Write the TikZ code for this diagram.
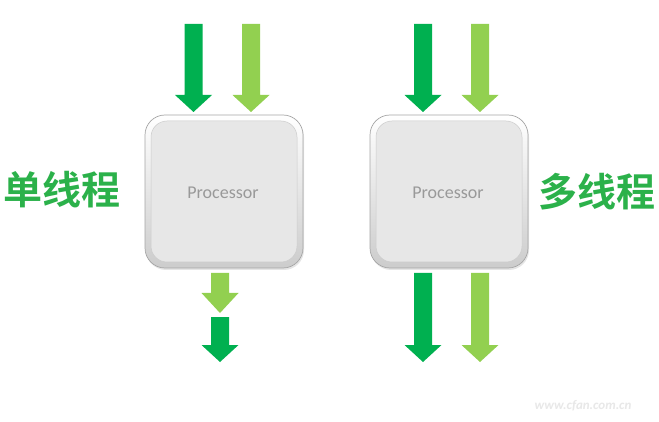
\documentclass[tikz,border=0pt]{standalone}
\usepackage{fontspec}
\setsansfont{Carlito}
\newfontfamily\cjk{Noto Sans CJK SC}[BoldFont={* Bold}]
\usetikzlibrary{shadows}
\definecolor{dkg}{HTML}{00B050}
\definecolor{ltg}{HTML}{92D050}
\definecolor{txtg}{HTML}{2BB14A}
\definecolor{face}{HTML}{E7E7E7}
\newcommand{\dnarr}[5]{% x, ytop, yheadstart, ytip, color
  \fill[#5] (#1-9,#2) -- (#1+9,#2) -- (#1+9,#3) -- (#1+18.5,#3) -- (#1,#4) -- (#1-18.5,#3) -- (#1-9,#3) -- cycle;}
\tikzset{
  cpu/.style={rounded corners=20pt, minimum width=158pt, minimum height=153pt, draw=gray!70, line width=0.7pt,
    top color=white, bottom color=gray!40, drop shadow={shadow xshift=1pt, shadow yshift=-2pt, opacity=0.2}},
  cpuface/.style={rounded corners=16pt, minimum width=146pt, minimum height=141pt, fill=face, draw=gray!40, line width=0.5pt,
    font=\sffamily\fontsize{18}{18}\selectfont, text=gray!80},
  label/.style={font=\cjk\bfseries\fontsize{39}{39}\selectfont, text=txtg}
}
\begin{document}
\begin{tikzpicture}[x=1pt,y=-1pt]
\useasboundingbox (0,0) rectangle (659,422);
\fill[white] (0,0) rectangle (659,422);
% processors
\node[cpu] (p1o) at (224,191.5) {};
\node[cpuface] (p1) at (224,191.5) {};
\node[font=\sffamily\fontsize{18}{18}\selectfont, text=gray!80] (t1) at (223,193) {Processor};
\node[cpu] (p2o) at (449,191.5) {};
\node[cpuface] (p2) at (449,191.5) {};
\node[font=\sffamily\fontsize{18}{18}\selectfont, text=gray!80] (t2) at (448,193) {Processor};
% labels
\node[label] (l1) at (62,190) {单线程};
\node[label] (l2) at (597,192) {多线程};
% top arrows
\dnarr{193.5}{24}{95}{112}{dkg}
\dnarr{251}{24}{95}{112}{ltg}
\dnarr{423}{24}{95}{112}{dkg}
\dnarr{480}{24}{95}{112}{ltg}
% bottom arrows single
\dnarr{220}{273}{293}{313}{ltg}
\dnarr{220}{317}{345}{362}{dkg}
% bottom arrows multi
\dnarr{423}{273}{345}{362}{dkg}
\dnarr{480}{273}{345}{362}{ltg}
% watermark
\node[font=\sffamily\itshape\bfseries\fontsize{13}{13}\selectfont, text=gray!18] (wm) at (583,406) {www.cfan.com.cn};
\end{tikzpicture}
\end{document}
